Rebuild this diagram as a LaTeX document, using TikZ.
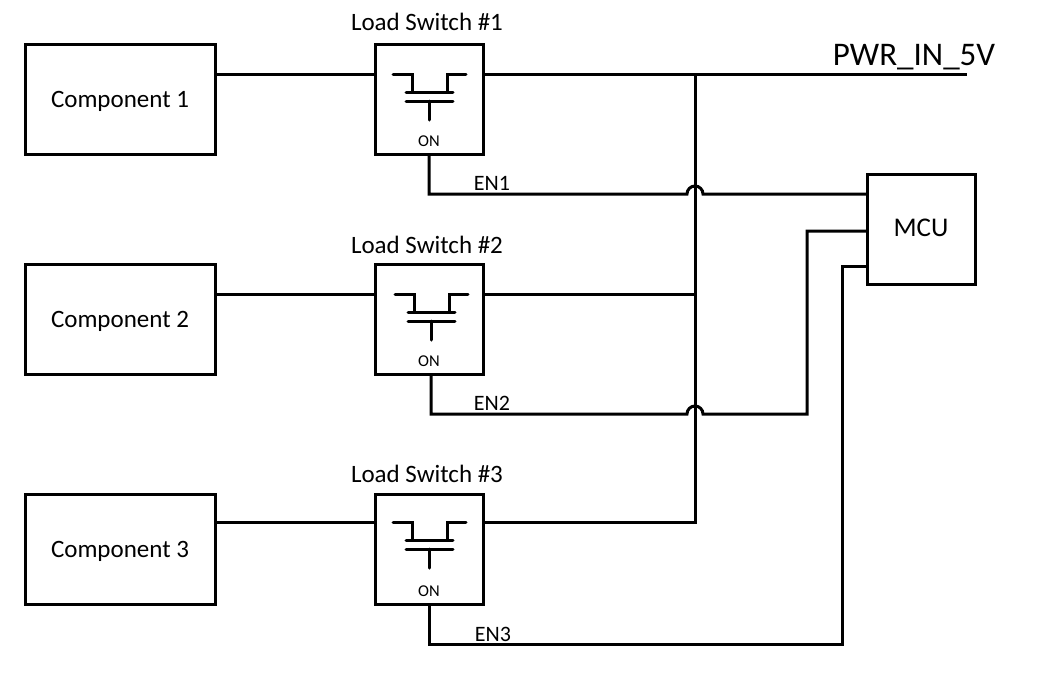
\documentclass[tikz,border=0pt]{standalone}
\usepackage{fontspec}
\setmainfont{Carlito}
\tikzset{
  wire/.style={line width=3pt,line cap=butt,line join=miter,black},
  fet/.style={line width=3pt,line cap=round,line join=miter,black},
  compbox/.style={draw=black,line width=3pt,minimum width=190pt,minimum height=110pt,inner sep=0pt,outer sep=0pt,font=\fontsize{25}{25}\selectfont},
  swbox/.style={draw=black,line width=3pt,minimum width=108pt,minimum height=110pt,inner sep=0pt,outer sep=0pt},
  mcubox/.style={draw=black,line width=3pt,minimum width=108pt,minimum height=110pt,inner sep=0pt,outer sep=0pt,font=\fontsize{27}{27}\selectfont},
  title/.style={inner sep=0pt,font=\fontsize{25}{25}\selectfont},
  enlabel/.style={inner sep=0pt,font=\fontsize{22}{22}\selectfont},
  onlabel/.style={inner sep=0pt,font=\fontsize{16.5}{16.5}\selectfont},
}
\newcommand{\fetsym}[2]{%
  \draw[fet] (#1-36,#2) -- (#1-17,#2) -- (#1-17,#2+18);
  \draw[fet] (#1+37,#2) -- (#1+18,#2) -- (#1+18,#2+18);
  \draw[fet] (#1-23,#2+18) -- (#1+24,#2+18);
  \draw[fet] (#1-23,#2+27) -- (#1+24,#2+27);
  \draw[fet] (#1,#2+27) -- (#1,#2+46);
}
\begin{document}
\begin{tikzpicture}[x=1pt,y=-1pt]
\useasboundingbox (0,0) rectangle (1053,697);
\node[compbox] (c1) at (120.5,99) {};
\node[compbox] (c2) at (120.5,319) {};
\node[compbox] (c3) at (120.5,549) {};
\node[swbox] (s1) at (429,99) {};
\node[swbox] (s2) at (429,319) {};
\node[swbox] (s3) at (429,549) {};
\node[mcubox] (mcu) at (921,229) {};
\node[compbox,draw=none,minimum height=0pt] (c1t) at (120,101.5) {Component 1};
\node[compbox,draw=none,minimum height=0pt] (c2t) at (120,321.5) {Component 2};
\node[compbox,draw=none,minimum height=0pt] (c3t) at (120,551.5) {Component 3};
\node[mcubox,draw=none,minimum height=0pt] (mcut) at (921,228) {MCU};
\node[title] (t1) at (427,21.5) {Load Switch \#1};
\node[title] (t2) at (427,244.5) {Load Switch \#2};
\node[title] (t3) at (427,473.5) {Load Switch \#3};
\node[onlabel] (on1) at (429,141.5) {ON};
\node[onlabel] (on2) at (429,361.5) {ON};
\node[onlabel] (on3) at (429,591.5) {ON};
\node[enlabel] (en1) at (492,183) {EN1};
\node[enlabel] (en2) at (492,403) {EN2};
\node[enlabel] (en3) at (493,634) {EN3};
\node[inner sep=0pt,font=\fontsize{33}{33}\selectfont] (pwr) at (914,57) {PWR\_IN\_5V};
% named points
\coordinate (r1) at (0,74);
\coordinate (r2) at (0,294);
\coordinate (r3) at (0,522);
\coordinate (bus1) at (695,74);
\coordinate (bus3) at (695,522);
\coordinate (pwrend) at (967,74);
\coordinate (e1) at (429,194);
\coordinate (e2) at (431,414);
\coordinate (e3) at (429,644);
\coordinate (j1) at (687,194);
\coordinate (j2) at (687,414);
\coordinate (v2) at (807,231);
\coordinate (v3) at (842,266);
% supply
\draw[wire] (c1.east |- r1) -- (s1.west |- r1);
\draw[wire] (c2.east |- r2) -- (s2.west |- r2);
\draw[wire] (c3.east |- r3) -- (s3.west |- r3);
\draw[wire] (s1.east |- r1) -- (pwrend);
\draw[wire] (s2.east |- r2) -- (bus1 |- r2);
\draw[wire] (s3.east |- r3) -- (bus3) -- (bus1);
% enables
\draw[wire] (e1 |- s1.south) -- (e1) -- (j1) arc[start angle=180,end angle=0,radius=8pt] -- (mcu.west |- e1);
\draw[wire] (e2 |- s2.south) -- (e2) -- (j2) arc[start angle=180,end angle=0,radius=8pt] -- (v2 |- e2) -- (v2) -- (mcu.west |- v2);
\draw[wire] (e3 |- s3.south) -- (e3) -- (v3 |- e3) -- (v3) -- (mcu.west |- v3);
% transistor symbols
\fetsym{429}{74}
\fetsym{431}{294}
\fetsym{429}{522}
\end{tikzpicture}
\end{document}
